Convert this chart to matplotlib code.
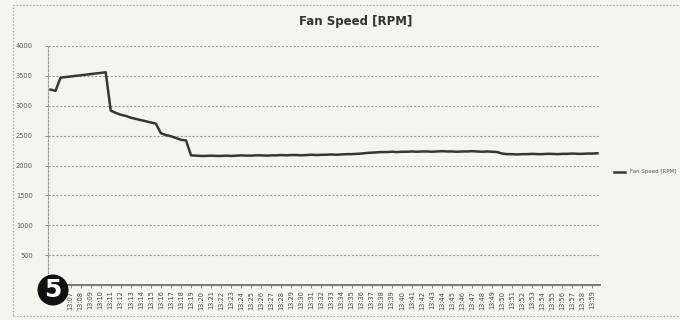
import matplotlib
matplotlib.use("Agg")
import matplotlib.pyplot as plt
from matplotlib.patches import Rectangle

# fan speed log, two samples per minute
rpm = [
    3270, 3250, 3470, 3480, 3490, 3500, 3510, 3520, 3530, 3540,
    3550, 3560, 2920, 2880, 2850, 2830, 2800, 2780, 2760, 2740,
    2720, 2700, 2540, 2510, 2490, 2460, 2430, 2420, 2170, 2165,
    2160, 2160, 2165, 2160, 2160, 2165, 2160, 2165, 2170, 2165,
    2165, 2170, 2170, 2165, 2170, 2170, 2175, 2170, 2175, 2175,
    2170, 2175, 2180, 2175, 2180, 2180, 2185, 2180, 2185, 2190,
    2190, 2195, 2200, 2210, 2215, 2220, 2225, 2225, 2230, 2225,
    2230, 2230, 2235, 2230, 2235, 2235, 2230, 2235, 2240, 2235,
    2235, 2230, 2235, 2235, 2240, 2235, 2230, 2235, 2230, 2225,
    2200, 2190, 2190, 2185, 2190, 2190, 2195, 2190, 2190, 2195,
    2195, 2190, 2195, 2195, 2200, 2195, 2195, 2200, 2200, 2205,
]
times = ["13:%02d" % m for m in range(5, 60)]
y_ticks = [0, 500, 1000, 1500, 2000, 2500, 3000, 3500, 4000]

bg = "#f4f4f1"
fig = plt.figure(figsize=(6.8, 3.2), dpi=100, facecolor=bg)
ax = fig.add_axes([48 / 680, 1 - 285 / 320, 552 / 680, 239 / 320])
ax.set_facecolor(bg)

x = list(range(len(rpm)))
ax.plot(x, rpm, color="#363636", linewidth=1.8, label="Fan Speed [RPM]")

ax.set_xlim(-0.5, len(rpm) - 0.5)
ax.set_ylim(0, 4000)
ax.set_yticks(y_ticks)
ax.set_yticklabels([str(v) for v in y_ticks], fontsize=4.8, color="#555555")
ax.set_xticks(x[::2])
ax.set_xticklabels(times, rotation=90, fontsize=4.8, color="#444444")
ax.tick_params(axis="both", length=2, width=0.6, color="#777777", pad=2)
ax.tick_params(axis="y", pad=9)

# the first labels sit under the badge
for lbl in ax.get_xticklabels()[:2]:
    lbl.set_visible(False)
ax.get_yticklabels()[0].set_visible(False)

ax.grid(axis="y", color="#9a9a9a", linestyle=(0, (2, 1.5)), linewidth=0.8)
for side in ["top", "right"]:
    ax.spines[side].set_visible(False)
ax.spines["left"].set_color("#999999")
ax.spines["left"].set_linestyle((0, (2, 1.5)))
ax.spines["bottom"].set_color("#777777")
ax.spines["bottom"].set_linewidth(1.4)

fig.text(356 / 680, 1 - 22 / 320, "Fan Speed [RPM]", ha="center", va="center",
         fontsize=8.5, fontweight="bold", color="#333333")

leg = fig.legend(loc="center left", bbox_to_anchor=(612 / 680, 1 - 172 / 320),
                 fontsize=4, frameon=False, handlelength=2, borderaxespad=0)
for t in leg.get_texts():
    t.set_color("#555555")

# dotted chart border
fig.patches.append(Rectangle((13 / 680, 4 / 320), 1.2, 1 - 9 / 320,
                             transform=fig.transFigure, fill=False,
                             edgecolor="#aaaaaa", linestyle=(0, (1.5, 1.5)),
                             linewidth=0.8))

# numbered badge
fig.text(53 / 680, 1 - 290 / 320, "5", ha="center", va="center",
         fontsize=18, fontweight="bold", color="white",
         bbox=dict(boxstyle="circle,pad=0.14", facecolor="#111111",
                   edgecolor="none"))

fig.savefig("out.png", dpi=100, facecolor=bg)
